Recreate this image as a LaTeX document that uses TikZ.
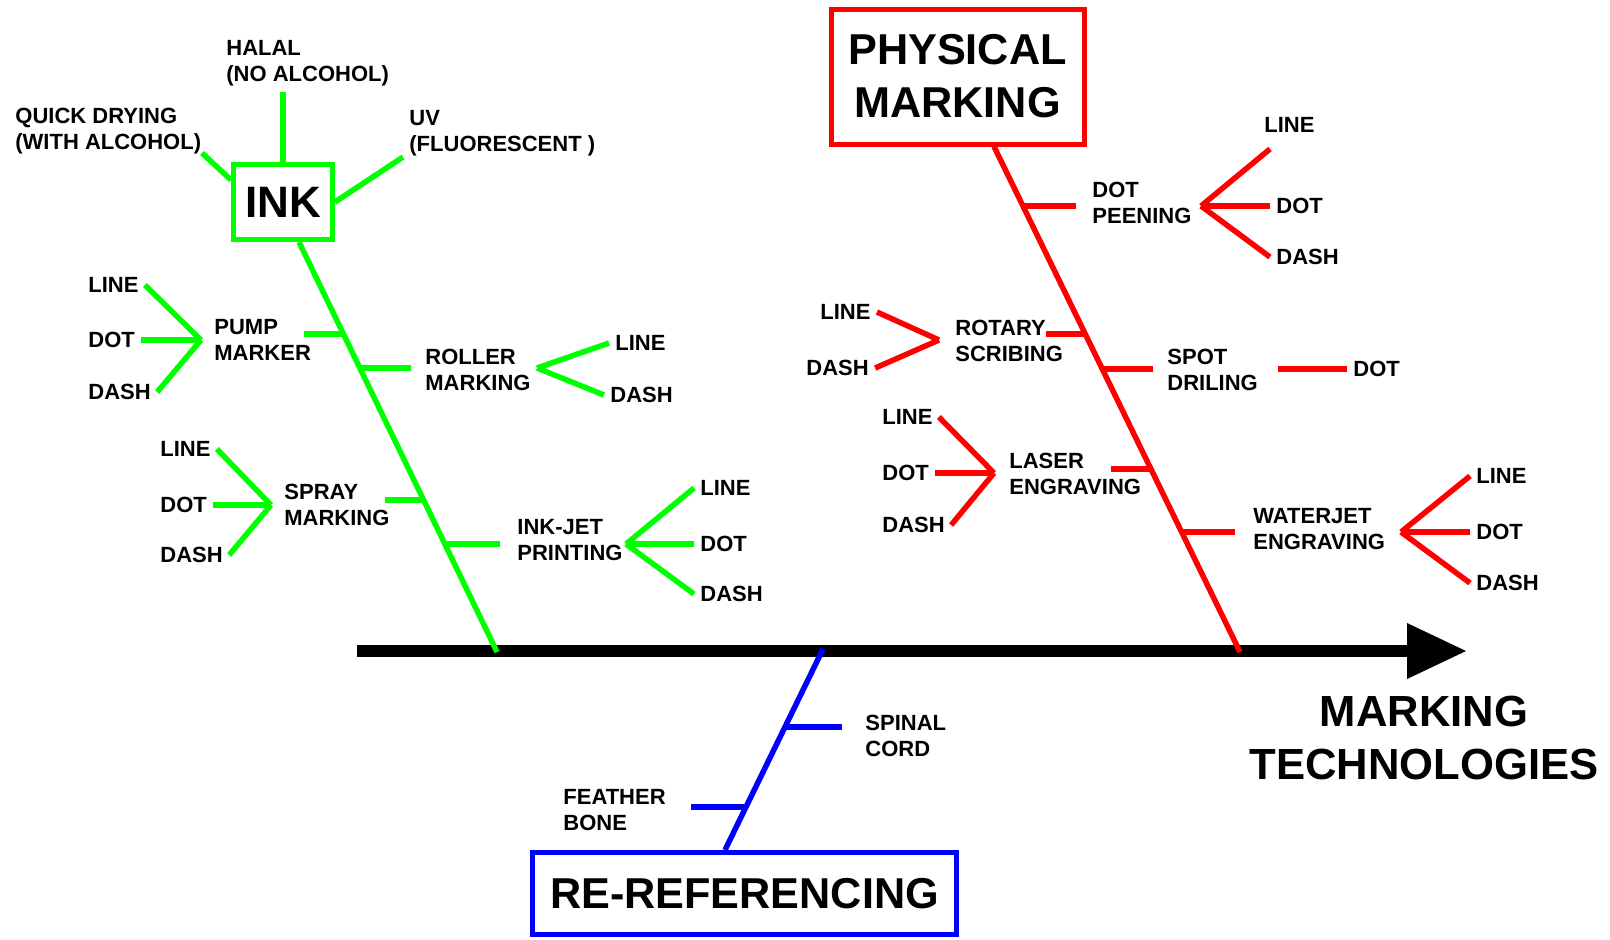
\documentclass[tikz,border=0pt]{standalone}
\usepackage{fontspec}
\setmainfont{Liberation Sans}
\usetikzlibrary{arrows.meta}
\definecolor{inkgreen}{RGB}{0,255,0}

\begin{document}
\begin{tikzpicture}[x=0.5pt, y=-0.5pt,
	lbl/.style={anchor=west, inner sep=3pt, align=left, font=\fontsize{11}{13}\selectfont\bfseries},
	head/.style={line width=2.5pt, inner sep=0pt, align=center, font=\fontsize{21.6}{26.5}\selectfont\bfseries},
	gline/.style={draw=inkgreen, line width=2.75pt},
	rline/.style={draw=red, line width=2.75pt},
	bline/.style={draw=blue, line width=2.75pt}]
				\useasboundingbox (0,0) rectangle (1610,939);

				% axis
				\coordinate (ax-start) at (357,651);
				\coordinate (ax-end) at (1466,651);
				\draw[line width=6pt, -{Triangle[length=29.5pt, width=28pt, line width=0pt]}] (ax-start) -- (ax-end);
				\node[font=\fontsize{21.8}{26.7}\selectfont\bfseries, align=center] (title) at (1424,738) {MARKING\\TECHNOLOGIES};

				% ink
				\node[head, draw=inkgreen, minimum width=49.5pt, minimum height=37.5pt, font=\fontsize{22}{26}\selectfont\bfseries] (ink) at (283,202) {INK};
				\node[lbl] (halal) at (220,63) {HALAL\\(NO ALCOHOL)};
				\node[lbl] (quick) at (9,131) {QUICK DRYING\\(WITH ALCOHOL)};
				\node[lbl] (uv) at (403,133) {UV\\(FLUORESCENT )};
				\coordinate (quick-end) at (202,153);
				\coordinate (uv-end) at (403,157);
				\draw[gline] (ink.north) -- (ink.north |- halal.south);
				\draw[gline] (ink.157) -- (quick-end);
				\draw[gline] (ink.east) -- (uv-end);

				\coordinate (g-bot) at (497,652);
				\draw[gline] ([xshift=8pt]ink.south) -- (g-bot);

				\node[lbl] (pump) at (208,340) {PUMP\\MARKER};
				\node[lbl] (pump-line) at (82,285) {LINE};
				\node[lbl] (pump-dot) at (82,340) {DOT};
				\node[lbl] (pump-dash) at (82,392) {DASH};
				\coordinate (pump-fork) at (201,340);
				\coordinate (pump-spine) at (343,334);
				\coordinate (pump-end) at (304,334);
				\draw[gline] (pump-spine) -- (pump-end);
				\foreach \k in {line,dot,dash}
					\draw[gline] (pump-fork) -- (pump-\k.east);

				\node[lbl] (roller) at (419,370) {ROLLER\\MARKING};
				\node[lbl] (roller-line) at (609,343) {LINE};
				\node[lbl] (roller-dash) at (604,395) {DASH};
				\coordinate (roller-fork) at (537,368);
				\coordinate (roller-spine) at (360,368);
				\coordinate (roller-end) at (411,368);
				\draw[gline] (roller-spine) -- (roller-end);
				\foreach \k in {line,dash}
					\draw[gline] (roller-fork) -- (roller-\k.west);

				\node[lbl] (spray) at (278,505) {SPRAY\\MARKING};
				\node[lbl] (spray-line) at (154,449) {LINE};
				\node[lbl] (spray-dot) at (154,505) {DOT};
				\node[lbl] (spray-dash) at (154,555) {DASH};
				\coordinate (spray-fork) at (271,505);
				\coordinate (spray-spine) at (423,500);
				\coordinate (spray-end) at (385,500);
				\draw[gline] (spray-spine) -- (spray-end);
				\foreach \k in {line,dot,dash}
					\draw[gline] (spray-fork) -- (spray-\k.east);

				\node[lbl] (inkjet) at (511,540) {INK-JET\\PRINTING};
				\node[lbl] (inkjet-line) at (694,488) {LINE};
				\node[lbl] (inkjet-dot) at (694,544) {DOT};
				\node[lbl] (inkjet-dash) at (694,594) {DASH};
				\coordinate (inkjet-fork) at (626,544);
				\coordinate (inkjet-spine) at (445,544);
				\coordinate (inkjet-end) at (500,544);
				\draw[gline] (inkjet-spine) -- (inkjet-end);
				\foreach \k in {line,dot,dash}
					\draw[gline] (inkjet-fork) -- (inkjet-\k.west);

				% physical marking
				\node[head, draw=red, minimum width=126.5pt, minimum height=67.5pt] (phys) at (957.5,76.5) {PHYSICAL\\MARKING};
				\coordinate (r-bot) at (1240,652);
				\draw[rline] ([xshift=18.25pt]phys.south) -- (r-bot);

				\node[lbl] (peen) at (1086,203) {DOT\\PEENING};
				\node[lbl] (peen-line) at (1258,125) {LINE};
				\node[lbl] (peen-dot) at (1270,206) {DOT};
				\node[lbl] (peen-dash) at (1270,257) {DASH};
				\coordinate (peen-fork) at (1201,206);
				\coordinate (peen-spine) at (1023,206);
				\coordinate (peen-end) at (1076,206);
				\draw[rline] (peen-spine) -- (peen-end);
				\draw[rline] (peen-fork) -- ([shift={(12,10)}]peen-line.south west);
				\foreach \k in {dot,dash}
					\draw[rline] (peen-fork) -- (peen-\k.west);

				\node[lbl] (rotary) at (949,341) {ROTARY\\SCRIBING};
				\node[lbl] (rotary-line) at (814,312) {LINE};
				\node[lbl] (rotary-dash) at (800,368) {DASH};
				\coordinate (rotary-fork) at (939,340);
				\coordinate (rotary-spine) at (1085,334);
				\coordinate (rotary-end) at (1046,334);
				\draw[rline] (rotary-spine) -- (rotary-end);
				\foreach \k in {line,dash}
					\draw[rline] (rotary-fork) -- (rotary-\k.east);

				\node[lbl] (spot) at (1161,370) {SPOT\\DRILING};
				\node[lbl] (spot-dot) at (1347,369) {DOT};
				\coordinate (spot-fork) at (1278,369);
				\coordinate (spot-spine) at (1102,369);
				\coordinate (spot-end) at (1153,369);
				\draw[rline] (spot-spine) -- (spot-end);
				\draw[rline] (spot-fork) -- (spot-dot.west);

				\node[lbl] (laser) at (1003,474) {LASER\\ENGRAVING};
				\node[lbl] (laser-line) at (876,417) {LINE};
				\node[lbl] (laser-dot) at (876,473) {DOT};
				\node[lbl] (laser-dash) at (876,525) {DASH};
				\coordinate (laser-fork) at (994,473);
				\coordinate (laser-spine) at (1151,469);
				\coordinate (laser-end) at (1111,469);
				\draw[rline] (laser-spine) -- (laser-end);
				\foreach \k in {line,dot,dash}
					\draw[rline] (laser-fork) -- (laser-\k.east);

				\node[lbl] (water) at (1247,529) {WATERJET\\ENGRAVING};
				\node[lbl] (water-line) at (1470,476) {LINE};
				\node[lbl] (water-dot) at (1470,532) {DOT};
				\node[lbl] (water-dash) at (1470,583) {DASH};
				\coordinate (water-fork) at (1401,532);
				\coordinate (water-spine) at (1182,532);
				\coordinate (water-end) at (1235,532);
				\draw[rline] (water-spine) -- (water-end);
				\foreach \k in {line,dot,dash}
					\draw[rline] (water-fork) -- (water-\k.west);

				% re-referencing
				\node[head, draw=blue, minimum width=212pt, minimum height=41pt] (reref) at (744.5,893.5) {RE-REFERENCING};
				\coordinate (b-top) at (823,649);
				\draw[bline] (b-top) -- ([xshift=-9.75pt]reref.north);

				\node[lbl] (spinal) at (859,736) {SPINAL\\CORD};
				\coordinate (spinal-spine) at (785,727);
				\coordinate (spinal-end) at (842,727);
				\draw[bline] (spinal-spine) -- (spinal-end);

				\node[lbl] (feather) at (557,810) {FEATHER\\BONE};
				\coordinate (feather-spine) at (746,807);
				\coordinate (feather-end) at (691,807);
				\draw[bline] (feather-spine) -- (feather-end);
			\end{tikzpicture}
\end{document}
